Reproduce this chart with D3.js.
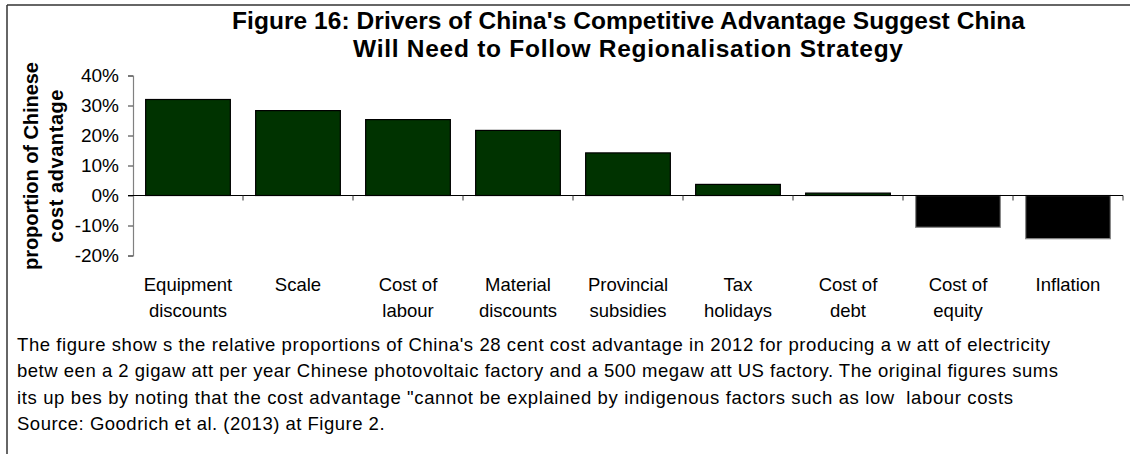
<!DOCTYPE html>
<html>
<head>
<meta charset="utf-8">
<script src="https://cdn.jsdelivr.net/npm/d3@7"></script>
<style>
  html, body { margin: 0; padding: 0; background: #fff; }
  svg { display: block; font-family: Arial, "Liberation Sans", sans-serif; }
</style>
</head>
<body>
<svg id="chart" width="1130" height="454"></svg>
<script>
const categories = [
  ["Equipment", "discounts"],
  ["Scale"],
  ["Cost of", "labour"],
  ["Material", "discounts"],
  ["Provincial", "subsidies"],
  ["Tax", "holidays"],
  ["Cost of", "debt"],
  ["Cost of", "equity"],
  ["Inflation"]
];
const values = [32, 28.3, 25.3, 21.7, 14.2, 3.7, 0.8, -10.6, -14.4];
const yTicks = [-20, -10, 0, 10, 20, 30, 40];
const titleLines = [
  "Figure 16: Drivers of China's Competitive Advantage Suggest China",
  "Will Need to Follow Regionalisation Strategy"
];
const yTitleLines = ["proportion of Chinese", "cost advantage"];
const captionLines = [
  "The figure show s the relative proportions of China's 28 cent cost advantage in 2012 for producing a w att of electricity",
  "betw een a 2 gigaw att per year Chinese photovoltaic factory and a 500 megaw att US factory. The original figures sums",
  "its up bes by noting that the cost advantage \"cannot be explained by indigenous factors such as low  labour costs",
  "Source: Goodrich et al. (2013) at Figure 2."
];
// measured text extents in the layout (pixels)
const titleSpans = [[232, 1025], [353, 903]];
const yTitleLengths = [208, 153];
const captionEnds = [1050, 1058, 1013, null];

const svg = d3.select("#chart");

// frame (top and left edges visible)
svg.append("line").attr("x1", 7).attr("y1", 5).attr("x2", 1130).attr("y2", 5)
  .attr("stroke", "#333").attr("stroke-width", 1.5);
svg.append("line").attr("x1", 7).attr("y1", 5).attr("x2", 7).attr("y2", 454)
  .attr("stroke", "#333").attr("stroke-width", 1.5);

const x = d3.scaleBand().domain(d3.range(categories.length)).range([133, 1123])
  .paddingInner(0.23).paddingOuter(0.115);
const y = d3.scaleLinear().domain([-20, 40]).range([255.5, 75.5]);

// title
svg.append("g").selectAll("text").data(titleLines).join("text")
  .attr("x", (d, i) => titleSpans[i][0]).attr("y", (d, i) => 28.5 + i * 28)
  .attr("textLength", (d, i) => titleSpans[i][1] - titleSpans[i][0])
  .attr("lengthAdjust", "spacing")
  .attr("font-size", 24.5).attr("font-weight", "bold")
  .attr("fill", "#000").text(d => d);

// y axis
const yAxis = d3.axisLeft(y).tickValues(yTicks).tickSize(5).tickFormat(d => d + "%");
const gy = svg.append("g").attr("transform", "translate(133,0)").call(yAxis);
gy.select(".domain").attr("stroke", "#808080").attr("stroke-width", 1.2);
gy.selectAll(".tick line").attr("stroke", "#333");
gy.selectAll(".tick text").attr("font-size", 19).attr("fill", "#000")
  .attr("font-family", "Arial, 'Liberation Sans', sans-serif").attr("x", -14);

// y title
svg.append("g").attr("transform", "translate(0,166) rotate(-90)")
  .selectAll("text").data(yTitleLines).join("text")
  .attr("x", (d, i) => -yTitleLengths[i] / 2).attr("y", (d, i) => 37.5 + i * 25)
  .attr("textLength", (d, i) => yTitleLengths[i]).attr("lengthAdjust", "spacing")
  .attr("font-size", 20).attr("font-weight", "bold")
  .attr("fill", "#000").text(d => d);

// bars
svg.append("g").selectAll("rect").data(values).join("rect")
  .attr("x", (d, i) => x(i))
  .attr("width", x.bandwidth())
  .attr("y", d => y(Math.max(0, d)))
  .attr("height", d => Math.abs(y(d) - y(0)))
  .attr("fill", d => d >= 0 ? "#003300" : "#000000")
  .attr("stroke", d => d >= 0 ? "#000" : "#888")
  .attr("stroke-width", 1.2);

// zero axis line with category ticks
const xEdges = d3.range(categories.length + 1).map(i => 133 + i * (990 / categories.length));
svg.append("line").attr("x1", 128).attr("x2", 1123).attr("y1", y(0)).attr("y2", y(0))
  .attr("stroke", "#000").attr("stroke-width", 1);
svg.append("g").selectAll("line").data(xEdges.slice(1)).join("line")
  .attr("x1", d => d).attr("x2", d => d).attr("y1", y(0)).attr("y2", y(0) + 5)
  .attr("stroke", "#333");

// category labels
const gl = svg.append("g");
categories.forEach((lines, i) => {
  gl.append("text")
    .attr("x", x(i) + x.bandwidth() / 2)
    .attr("text-anchor", "middle").attr("font-size", 18.5).attr("fill", "#000")
    .selectAll("tspan").data(lines).join("tspan")
    .attr("x", x(i) + x.bandwidth() / 2)
    .attr("y", (d, j) => 291 + j * 26)
    .text(d => d);
});

// caption
svg.append("g").selectAll("text").data(captionLines).join("text")
  .attr("x", 17).attr("y", (d, i) => 350.5 + i * 26.5)
  .each(function (d, i) {
    if (captionEnds[i] !== null) {
      d3.select(this).attr("textLength", captionEnds[i] - 17).attr("lengthAdjust", "spacing");
    } else {
      d3.select(this).attr("letter-spacing", 0.5);
    }
  })
  .attr("font-size", 18.5).attr("fill", "#000")
  .style("white-space", "pre")
  .text(d => d);
</script>
</body>
</html>
